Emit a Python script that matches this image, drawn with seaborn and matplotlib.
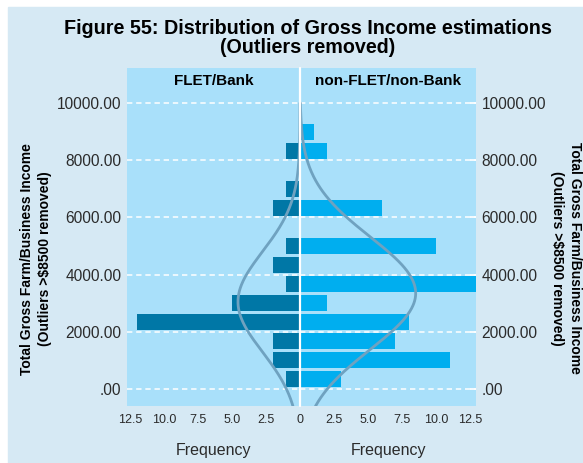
import numpy as np
import pandas as pd
import matplotlib
matplotlib.use("Agg")
import matplotlib.pyplot as plt
from matplotlib.patches import Rectangle
import seaborn as sns

# ---------------------------------------------------------------------------
# data
# ---------------------------------------------------------------------------
bin_centers = [333, 1000, 1667, 2333, 3000, 3667, 4333, 5000,
               5667, 6333, 7000, 7667, 8333, 9000, 9667]
flet_counts = [1, 2, 2, 12, 5, 1, 2, 1, 0, 2, 1, 0, 1, 0, 0]
nonflet_counts = [3, 11, 7, 8, 2, 13, 0, 10, 0, 6, 0, 0, 2, 1, 0]
bin_width = 666.7

# normal curve parameters (mean, sd) per group
flet_mean, flet_sd = 3050, 1750
nonflet_mean, nonflet_sd = 3350, 1970

yticks = [0, 2000, 4000, 6000, 8000, 10000]
ytick_labels = [".00", "2000.00", "4000.00", "6000.00", "8000.00", "10000.00"]
xticks = [0, 2.5, 5.0, 7.5, 10.0, 12.5]
xtick_labels_left = ["", "2.5", "5.0", "7.5", "10.0", "12.5"]
xtick_labels_right = ["0", "2.5", "5.0", "7.5", "10.0", "12.5"]

title = "Figure 55: Distribution of Gross Income estimations\n(Outliers removed)"
ylabel = "Total Gross Farm/Business Income\n(Outliers >\\$8500 removed)"

OUTER_BG = "#d6e9f4"
PANEL_BG = "#a9e0fa"
DARK = "#0077a6"
BRIGHT = "#00aeef"
CURVE = "#6fa2c0"
TXT = "#2b2b2b"

sns.set_theme(style="white")
plt.rcParams["font.family"] = ["Liberation Sans", "DejaVu Sans"]

W, H = 583, 463
fig = plt.figure(figsize=(W / 100, H / 100), dpi=100, facecolor="white")
fig.patches.append(Rectangle((8 / W, 0), 1 - 8 / W, 1 - 7 / H,
                             transform=fig.transFigure, color=OUTER_BG, zorder=-10))

x0, xm, x1 = 127, 300, 476
ytop, ybot = 68, 406
ax_l = fig.add_axes([x0 / W, 1 - ybot / H, (xm - x0) / W, (ybot - ytop) / H])
ax_r = fig.add_axes([xm / W, 1 - ybot / H, (x1 - xm) / W, (ybot - ytop) / H])

ylim = (-594, 11224)
y_curve = np.linspace(-700, 10000, 400)


def normal_curve(counts, mean, sd):
    n = sum(counts)
    return n * bin_width / (sd * np.sqrt(2 * np.pi)) * np.exp(-0.5 * ((y_curve - mean) / sd) ** 2)


groups = [
    (ax_l, flet_counts, DARK, flet_mean, flet_sd, "FLET/Bank"),
    (ax_r, nonflet_counts, BRIGHT, nonflet_mean, nonflet_sd, "non-FLET/non-Bank"),
]

for ax, counts, color, mean, sd, header in groups:
    ax.set_facecolor(PANEL_BG)
    df = pd.DataFrame({"Income": bin_centers, "Count": counts})
    ax.grid(False)
    for yv in yticks:
        ax.axhline(yv, color="white", lw=1.1, ls=(0, (3.5, 2.5)), zorder=1)
    sns.barplot(data=df, x="Count", y="Income", orient="y", native_scale=True,
                width=0.84, color=color, linewidth=0, saturation=1, ax=ax, zorder=2)
    curve = pd.DataFrame({"Income": y_curve, "Freq": normal_curve(counts, mean, sd)})
    sns.lineplot(data=curve, x="Freq", y="Income", orient="y", sort=True,
                 color=CURVE, lw=2.0, ax=ax, zorder=3)
    ax.set_ylim(*ylim)
    ax.set_xticks(xticks)
    ax.set_yticks(yticks)
    ax.set_xlabel("Frequency", fontsize=11.5, color=TXT, labelpad=12)
    ax.set_ylabel("")
    for s in ax.spines.values():
        s.set_visible(False)
    ax.text(0.5, 0.962, header, transform=ax.transAxes, ha="center", va="center",
            fontsize=11, fontweight="bold", color="black")
    ax.tick_params(axis="x", length=0, pad=6, labelsize=9, labelcolor=TXT)
    ax.tick_params(axis="y", length=4, direction="in", color="white",
                   labelsize=11.2, labelcolor=TXT, pad=4)

ax_l.set_xlim(12.72, 0)
ax_r.set_xlim(0, 12.94)
ax_l.set_xticklabels(xtick_labels_left)
ax_r.set_xticklabels(xtick_labels_right)
ax_l.set_yticklabels(ytick_labels)
ax_r.yaxis.tick_right()
ax_r.set_yticklabels(ytick_labels)
ax_r.tick_params(axis="y", labelright=True, labelleft=False)

# white divider between panels
ax_r.axvline(0, color="white", lw=1.6, zorder=4, clip_on=False)

fig.text(36 / W, 1 - 259 / H, ylabel, rotation=90, ha="center", va="center",
         fontsize=10, fontweight="bold", color="black", linespacing=1.4)
fig.text(566 / W, 1 - 258 / H, ylabel, rotation=270, ha="center", va="center",
         fontsize=10, fontweight="bold", color="black", linespacing=1.4)

fig.text(308 / W, 1 - 38 / H, title, ha="center", va="center",
         fontsize=14.2, fontweight="bold", color="black", linespacing=0.95)

fig.savefig("out.png", dpi=100, facecolor="white")
